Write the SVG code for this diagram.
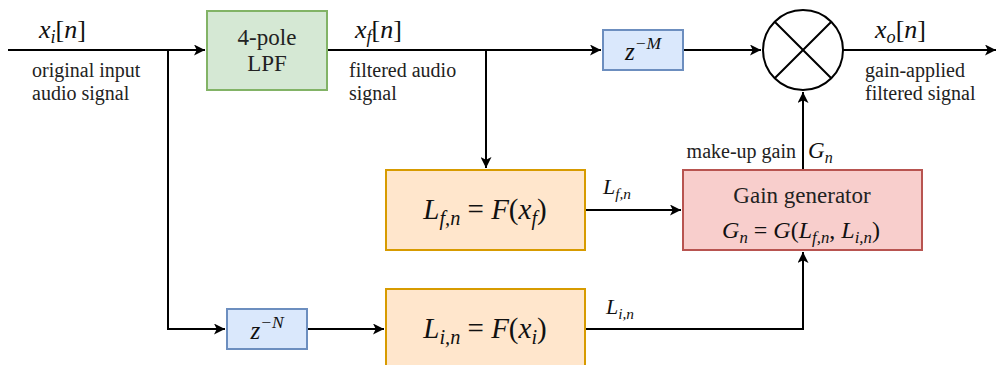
<svg xmlns="http://www.w3.org/2000/svg" width="998" height="365" viewBox="0 0 998 365">
<defs>
<marker id="arr" viewBox="0 0 10 10" refX="10" refY="5" markerWidth="11" markerHeight="11" markerUnits="userSpaceOnUse" orient="auto">
<path d="M0,0 L10,5 L0,10 L2.5,5 Z" fill="#000"/>
</marker>
<style>
.c{fill:none;stroke:#000;stroke-width:2}
.t{font-size:20px;fill:#222}
.m{font-style:italic;fill:#111}
.b{font-size:23px;fill:#222}
.s{font-size:70%}
.u{font-style:normal}
</style>
</defs>
<rect width="998" height="365" fill="#fff"/>
<g id="connectors">
<path class="c" d="M8,50 H205" marker-end="url(#arr)"/>
<path class="c" d="M168,50 V329 H225" marker-end="url(#arr)"/>
<path class="c" d="M307,329 H384" marker-end="url(#arr)"/>
<path class="c" d="M327,50 H601" marker-end="url(#arr)"/>
<path class="c" d="M486,50 V168" marker-end="url(#arr)"/>
<path class="c" d="M683,50 H761" marker-end="url(#arr)"/>
<path class="c" d="M843,50 H996" marker-end="url(#arr)"/>
<path class="c" d="M586,210 H681" marker-end="url(#arr)"/>
<path class="c" d="M586,329 H803 V252" marker-end="url(#arr)"/>
<path class="c" d="M803,170 V92" marker-end="url(#arr)"/>
</g>
<g id="lpf">
<rect x="207" y="11" width="120" height="79" fill="#d5e8d4" stroke="#82b366" stroke-width="2"/>
<text class="b" font-family="Liberation Serif, DejaVu Serif, serif" x="267" y="45" text-anchor="middle">4-pole</text>
<text class="b" font-family="Liberation Serif, DejaVu Serif, serif" x="267" y="71" text-anchor="middle">LPF</text>
</g>
<g id="delayM">
<rect x="603" y="30" width="80" height="40" fill="#dae8fc" stroke="#6c8ebf" stroke-width="2"/>
<text class="m" font-family="Liberation Serif, DejaVu Serif, serif" x="643" y="60" text-anchor="middle" font-size="25">z<tspan class="s" dy="-11">&#8722;M</tspan></text>
</g>
<g id="delayN">
<rect x="227" y="309" width="80" height="40" fill="#dae8fc" stroke="#6c8ebf" stroke-width="2"/>
<text class="m" font-family="Liberation Serif, DejaVu Serif, serif" x="267" y="339" text-anchor="middle" font-size="25">z<tspan class="s" dy="-11">&#8722;N</tspan></text>
</g>
<g id="mult">
<circle cx="803" cy="50" r="40" fill="#fff" stroke="#000" stroke-width="2"/>
<path d="M774.7,21.7 L831.3,78.3 M831.3,21.7 L774.7,78.3" stroke="#000" stroke-width="2"/>
</g>
<g id="levelF">
<rect x="386" y="170" width="199" height="80" fill="#ffe6cc" stroke="#d79b00" stroke-width="2"/>
<text class="m" font-family="Liberation Serif, DejaVu Serif, serif" x="485" y="219" text-anchor="middle" font-size="29">L<tspan class="s" dy="6">f,n</tspan><tspan class="u" dy="-6"> = </tspan>F<tspan class="u">(</tspan>x<tspan class="s" dy="6">f</tspan><tspan class="u" dy="-6">)</tspan></text>
</g>
<g id="levelI">
<rect x="386" y="289" width="199" height="80" fill="#ffe6cc" stroke="#d79b00" stroke-width="2"/>
<text class="m" font-family="Liberation Serif, DejaVu Serif, serif" x="485" y="338" text-anchor="middle" font-size="29">L<tspan class="s" dy="6">i,n</tspan><tspan class="u" dy="-6"> = </tspan>F<tspan class="u">(</tspan>x<tspan class="s" dy="6">i</tspan><tspan class="u" dy="-6">)</tspan></text>
</g>
<g id="gain">
<rect x="683" y="170" width="239" height="80" fill="#f8cecc" stroke="#b85450" stroke-width="2"/>
<text class="b" font-family="Liberation Serif, DejaVu Serif, serif" x="802" y="203" text-anchor="middle">Gain generator</text>
<text class="m" font-family="Liberation Serif, DejaVu Serif, serif" x="801" y="238" text-anchor="middle" font-size="24">G<tspan class="s" dy="5">n</tspan><tspan class="u" dy="-5"> = </tspan>G<tspan class="u">(</tspan>L<tspan class="s" dy="5">f,n</tspan><tspan class="u" dy="-5">, </tspan>L<tspan class="s" dy="5">i,n</tspan><tspan class="u" dy="-5">)</tspan></text>
</g>
<g id="labels">
<text class="m" font-family="Liberation Serif, DejaVu Serif, serif" x="39" y="38" font-size="26">x<tspan class="s" dy="5">i</tspan><tspan class="u" dy="-5">[</tspan>n<tspan class="u">]</tspan></text>
<text class="t" font-family="Liberation Serif, DejaVu Serif, serif" x="32" y="77">original input</text>
<text class="t" font-family="Liberation Serif, DejaVu Serif, serif" x="32" y="100">audio signal</text>
<text class="m" font-family="Liberation Serif, DejaVu Serif, serif" x="355" y="38" font-size="26">x<tspan class="s" dy="5">f</tspan><tspan class="u" dy="-5">[</tspan>n<tspan class="u">]</tspan></text>
<text class="t" font-family="Liberation Serif, DejaVu Serif, serif" x="349" y="77">filtered audio</text>
<text class="t" font-family="Liberation Serif, DejaVu Serif, serif" x="349" y="100">signal</text>
<text class="m" font-family="Liberation Serif, DejaVu Serif, serif" x="875" y="38" font-size="26">x<tspan class="s" dy="5">o</tspan><tspan class="u" dy="-5">[</tspan>n<tspan class="u">]</tspan></text>
<text class="t" font-family="Liberation Serif, DejaVu Serif, serif" x="865" y="77">gain-applied</text>
<text class="t" font-family="Liberation Serif, DejaVu Serif, serif" x="865" y="100">filtered signal</text>
<text class="t" font-family="Liberation Serif, DejaVu Serif, serif" x="796" y="158" text-anchor="end">make-up gain</text>
<text class="m" font-family="Liberation Serif, DejaVu Serif, serif" x="808" y="158" font-size="23">G<tspan class="s" dy="5">n</tspan></text>
<text class="m" font-family="Liberation Serif, DejaVu Serif, serif" x="603" y="194" font-size="22">L<tspan class="s" dy="5">f,n</tspan></text>
<text class="m" font-family="Liberation Serif, DejaVu Serif, serif" x="606" y="314" font-size="22">L<tspan class="s" dy="5">i,n</tspan></text>
</g>
</svg>
